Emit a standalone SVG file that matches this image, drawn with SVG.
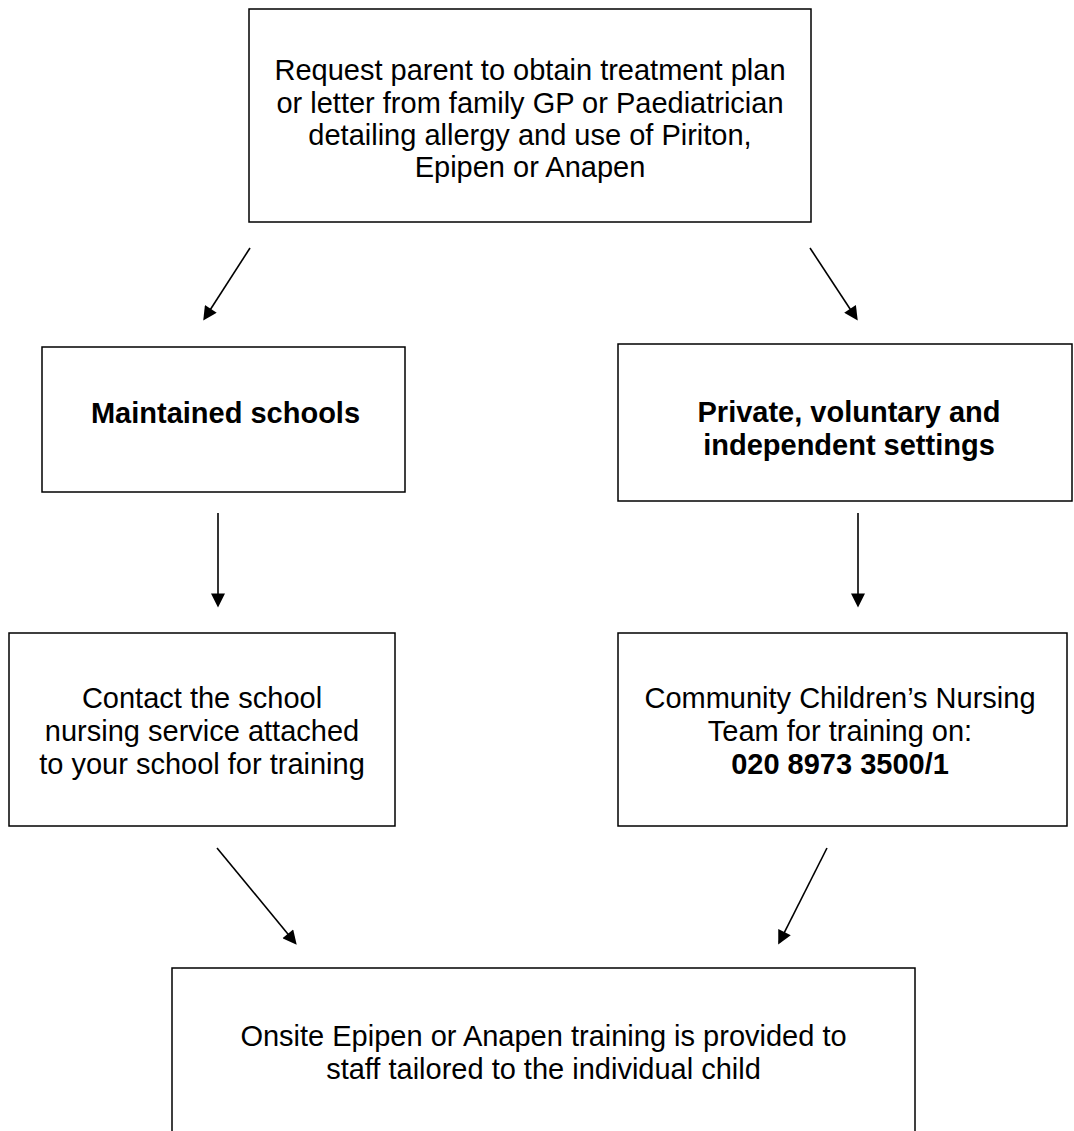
<svg xmlns="http://www.w3.org/2000/svg" width="1074" height="1131" viewBox="0 0 1074 1131">
<style>
.box{fill:#fff;stroke:#000;stroke-width:1.5}
.t{font-family:"Liberation Sans",Arial,sans-serif;font-size:29px;fill:#000;text-anchor:middle}
.b{font-weight:bold}
.c{fill:none;stroke:#000;stroke-width:1.6}
</style>
<defs>
<marker id="ah" viewBox="0 0 10 10" refX="8.2" refY="5" markerWidth="17" markerHeight="14" markerUnits="userSpaceOnUse" orient="auto">
<path d="M0,0 L10,5 L0,10 z" fill="#000"/>
</marker>
</defs>
<rect width="1074" height="1131" fill="#fff"/>
<g id="n-request">
<rect class="box" x="249" y="9" width="562" height="213"/>
<text class="t" x="530" y="80">Request parent to obtain treatment plan</text>
<text class="t" x="530" y="112.5">or letter from family GP or Paediatrician</text>
<text class="t" x="530" y="145">detailing allergy and use of Piriton,</text>
<text class="t" x="530" y="177">Epipen or Anapen</text>
</g>
<g id="n-maintained">
<rect class="box" x="42" y="347" width="363" height="145"/>
<text class="t b" x="225.5" y="423">Maintained schools</text>
</g>
<g id="n-private">
<rect class="box" x="618" y="344" width="454" height="157"/>
<text class="t b" x="849" y="422">Private, voluntary and</text>
<text class="t b" x="849" y="455">independent settings</text>
</g>
<g id="n-contact">
<rect class="box" x="9" y="633" width="386" height="193"/>
<text class="t" x="202" y="708">Contact the school</text>
<text class="t" x="202" y="741">nursing service attached</text>
<text class="t" x="202" y="774">to your school for training</text>
</g>
<g id="n-community">
<rect class="box" x="618" y="633" width="449" height="193"/>
<text class="t" x="840" y="708">Community Children’s Nursing</text>
<text class="t" x="840" y="741">Team for training on:</text>
<text class="t b" x="840" y="774">020 8973 3500/1</text>
</g>
<g id="n-onsite">
<rect class="box" x="172" y="968" width="743" height="200"/>
<text class="t" x="543.5" y="1046">Onsite Epipen or Anapen training is provided to</text>
<text class="t" x="543.5" y="1079">staff tailored to the individual child</text>
</g>
<g id="connectors">
<line class="c" x1="250" y1="248" x2="204.6" y2="318.5" marker-end="url(#ah)"/>
<line class="c" x1="810" y1="248" x2="856.35" y2="318.5" marker-end="url(#ah)"/>
<line class="c" x1="218" y1="513" x2="218" y2="605" marker-end="url(#ah)"/>
<line class="c" x1="858" y1="513" x2="858" y2="605" marker-end="url(#ah)"/>
<line class="c" x1="217" y1="848" x2="295.1" y2="942.7" marker-end="url(#ah)"/>
<line class="c" x1="827" y1="848" x2="779.35" y2="942.3" marker-end="url(#ah)"/>
</g>
</svg>
